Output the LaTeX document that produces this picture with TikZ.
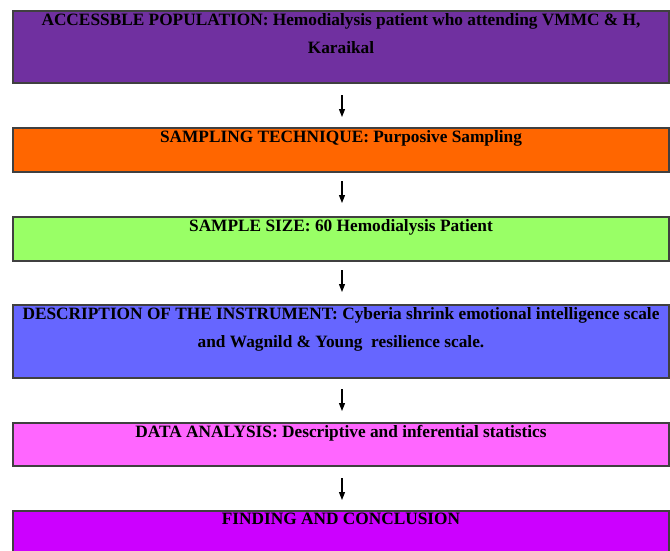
\documentclass[tikz,border=0pt]{standalone}
\usepackage{fontspec}
\setmainfont{Liberation Serif}
\usetikzlibrary{arrows.meta}
\definecolor{cPop}{HTML}{7030A0}
\definecolor{cSamp}{HTML}{FF6600}
\definecolor{cSize}{HTML}{99FF66}
\definecolor{cInst}{HTML}{6666FF}
\definecolor{cData}{HTML}{FF66FF}
\definecolor{cFind}{HTML}{CC00FF}
\definecolor{cBorder}{HTML}{404040}
\begin{document}
\begin{tikzpicture}[x=1pt,y=-1pt,
  flowbox/.style={draw=cBorder,line width=1.5pt},
  boxtext/.style={anchor=north,align=center,inner sep=0pt,
    font=\fontsize{17.3}{28}\selectfont\bfseries,text=black},
  flowarrow/.style={-{Triangle[length=8pt,width=6pt]},line width=1.2pt,black}]
\useasboundingbox (0,0) rectangle (670,550);
% boxes
\path[flowbox,fill=cPop]  (13,11) rectangle (669,83);
\path[flowbox,fill=cSamp] (13,128) rectangle (669,172);
\path[flowbox,fill=cSize] (13,217) rectangle (669,261);
\path[flowbox,fill=cInst] (13,305) rectangle (669,378);
\path[flowbox,fill=cData] (13,423) rectangle (669,466);
\path[flowbox,fill=cFind] (13,511) rectangle (669,560);
% texts
\node[boxtext] (pop) at (341,13) {ACCESSBLE POPULATION: Hemodialysis patient who attending VMMC \& H,\\Karaikal};
\node[boxtext] (samp) at (341,130) {SAMPLING TECHNIQUE: Purposive Sampling};
\node[boxtext] (size) at (341,219) {SAMPLE SIZE: 60 Hemodialysis Patient};
\node[boxtext] (inst) at (341,307) {DESCRIPTION OF THE INSTRUMENT: Cyberia shrink emotional intelligence scale\\and Wagnild \& Young\ \ resilience scale.};
\node[boxtext] (data) at (341,425) {DATA ANALYSIS: Descriptive and inferential statistics};
\node[boxtext] (find) at (341,513) {FINDING AND CONCLUSION};
% arrow anchor coordinates
\coordinate (a1s) at (342,95);  \coordinate (a1e) at (342,117);
\coordinate (a2s) at (342,181); \coordinate (a2e) at (342,203);
\coordinate (a3s) at (342,270); \coordinate (a3e) at (342,292);
\coordinate (a4s) at (342,389); \coordinate (a4e) at (342,411);
\coordinate (a5s) at (342,478); \coordinate (a5e) at (342,500);
\draw[flowarrow] (a1s) -- (a1e);
\draw[flowarrow] (a2s) -- (a2e);
\draw[flowarrow] (a3s) -- (a3e);
\draw[flowarrow] (a4s) -- (a4e);
\draw[flowarrow] (a5s) -- (a5e);
\end{tikzpicture}
\end{document}
